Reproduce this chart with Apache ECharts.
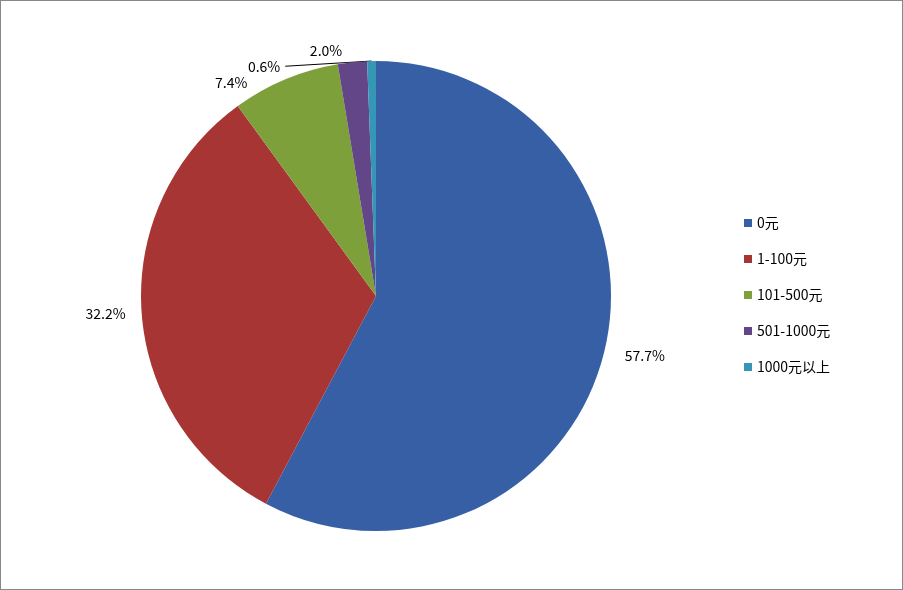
<!DOCTYPE html>
<html><head><meta charset="utf-8">
<script src="https://cdn.jsdelivr.net/npm/echarts@6/dist/echarts.min.js"></script>
<style>html,body{margin:0;padding:0;background:#fff}#c{width:903px;height:590px;box-sizing:border-box;border:1px solid #888}</style>
</head><body><div id="c"></div>
<script>
var categories = ['0元', '1-100元', '101-500元', '501-1000元', '1000元以上'];
var values = [57.7, 32.2, 7.4, 2.0, 0.6];
var colors = ['#375FA6', '#A73533', '#7EA03B', '#634687', '#3696B6'];

var myChart = echarts.init(document.getElementById('c'));
var data = categories.map(function (n, i) {
    var d = { name: n, value: values[i], itemStyle: { color: colors[i] } };
    if (i == 4) {
        d.labelLine = { show: true, length: 6, length2: 6, lineStyle: { color: '#000', width: 1 } };
    }
    return d;
});
var option = {
    animation: false,
    legend: {
        orient: 'vertical',
        left: 738,
        top: 210,
        itemWidth: 8,
        itemHeight: 8,
        itemGap: 22,
        icon: 'rect',
        textStyle: { fontFamily: 'Noto Sans CJK SC', fontSize: 14, color: '#000' },
        data: categories
    },
    series: [{
        type: 'pie',
        center: [375, 295],
        radius: 235,
        startAngle: 90,
        clockwise: true,
        data: data,
        label: {
            position: 'outside',
            formatter: function (p) { return p.value.toFixed(1) + '%'; },
            fontFamily: 'Noto Sans CJK SC',
            fontSize: 14,
            color: '#000'
        },
        labelLine: { show: false, length: 12, length2: 4 }
    }]
};
myChart.setOption(option);
</script></body></html>
